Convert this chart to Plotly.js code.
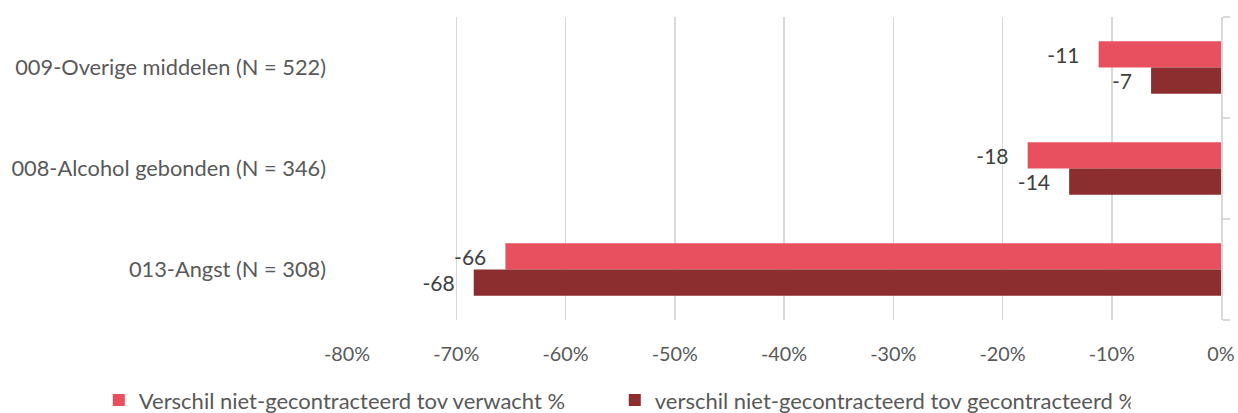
<!DOCTYPE html>
<html>
<head>
<meta charset="utf-8">
<script src="https://cdn.plot.ly/plotly-3.0.1.min.js"></script>
<style>
  html, body { margin: 0; padding: 0; background: #fff; }
  #chart { width: 1238px; height: 413px; }
</style>
</head>
<body>
<div id="chart"></div>
<script>
// Categorieën (van boven naar beneden)
const categories = [
    '009-Overige middelen (N = 522)',
    '008-Alcohol gebonden (N = 346)',
    '013-Angst (N = 308)'
];

// Waarden in procenten
const verschilVerwacht = [-11.2, -17.7, -65.5];
const verschilGecontracteerd = [-6.4, -13.9, -68.4];

// Labels zoals in de grafiek
const labelsVerwacht = ['-11', '-18', '-66'];
const labelsGecontracteerd = ['-7', '-14', '-68'];

const seriesNames = [
    'Verschil niet-gecontracteerd tov verwacht %',
    'verschil niet-gecontracteerd tov gecontracteerd %'
];

const xTicks = [-80, -70, -60, -50, -40, -30, -20, -10, 0];
const xTickText = xTicks.map(v => v + '%');

const FONT = 'Lato, Open Sans, sans-serif';
const GREY = '#595959';

// wat ruimte tussen label en balk
const pad = s => s + '\u00A0\u00A0\u00A0';

const traces = [
    {
        type: 'bar',
        orientation: 'h',
        y: categories,
        x: verschilVerwacht,
        text: labelsVerwacht.map(pad),
        textposition: 'outside',
        cliponaxis: false,
        textfont: { family: FONT, size: 21, color: '#404040' },
        marker: { color: '#E8505F' },
        name: seriesNames[0],
        hoverinfo: 'none'
    },
    {
        type: 'bar',
        orientation: 'h',
        y: categories,
        x: verschilGecontracteerd,
        text: labelsGecontracteerd.map(pad),
        textposition: 'outside',
        cliponaxis: false,
        textfont: { family: FONT, size: 21, color: '#404040' },
        marker: { color: '#8C2D30' },
        name: seriesNames[1],
        hoverinfo: 'none'
    },
    // onzichtbare trace voor de rechteras met streepjes tussen categorieën
    {
        type: 'scatter',
        x: [0],
        y: [0],
        yaxis: 'y2',
        mode: 'markers',
        marker: { opacity: 0 },
        showlegend: false,
        hoverinfo: 'none'
    }
];

const layout = {
    width: 1238,
    height: 413,
    margin: { l: 347, r: 17, t: 17, b: 93, autoexpand: false },
    paper_bgcolor: '#fff',
    plot_bgcolor: '#fff',
    font: { family: FONT, color: GREY, size: 20 },
    barmode: 'group',
    bargap: 0.48,
    bargroupgap: 0,
    xaxis: {
        range: [-80, 0],
        tickvals: xTicks,
        ticktext: xTickText,
        showgrid: true,
        gridcolor: '#d9d9d9',
        gridwidth: 1.5,
        zeroline: false,
        showline: false,
        ticks: '',
        ticklabelstandoff: 20,
        tickfont: { family: FONT, size: 19.8, color: GREY },
        fixedrange: true
    },
    yaxis: {
        autorange: 'reversed',
        showgrid: false,
        zeroline: false,
        showline: false,
        ticks: '',
        ticklabelstandoff: 20,
        tickfont: { family: FONT, size: 21.8, color: GREY },
        fixedrange: true
    },
    yaxis2: {
        overlaying: 'y',
        side: 'right',
        anchor: 'x',
        range: [-0.5, 2.5],
        tickvals: [-0.5, 0.5, 1.5, 2.5],
        showticklabels: false,
        ticks: 'outside',
        ticklen: 7,
        tickcolor: '#d9d9d9',
        tickwidth: 1.5,
        showline: true,
        linecolor: '#d9d9d9',
        linewidth: 1.5,
        showgrid: false,
        zeroline: false,
        fixedrange: true
    },
    legend: {
        orientation: 'h',
        x: -0.284,
        xanchor: 'left',
        y: -0.265,
        yanchor: 'middle',
        font: { family: FONT, size: 22, color: GREY },
        entrywidth: 471,
        itemwidth: 30,
        tracegroupgap: 0
    },
    showlegend: true
};

Plotly.newPlot('chart', traces, layout, { displayModeBar: false, staticPlot: true });
</script>
</body>
</html>
